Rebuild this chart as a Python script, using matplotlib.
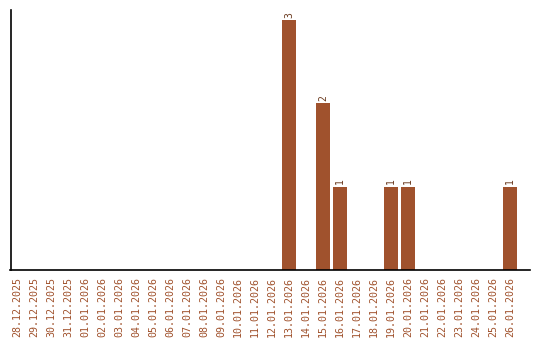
import matplotlib
matplotlib.use("Agg")
import matplotlib.pyplot as plt
import numpy as np

dates = ["28.12.2025", "29.12.2025", "30.12.2025", "31.12.2025",
         "01.01.2026", "02.01.2026", "03.01.2026", "04.01.2026",
         "05.01.2026", "06.01.2026", "07.01.2026", "08.01.2026",
         "09.01.2026", "10.01.2026", "11.01.2026", "12.01.2026",
         "13.01.2026", "14.01.2026", "15.01.2026", "16.01.2026",
         "17.01.2026", "18.01.2026", "19.01.2026", "20.01.2026",
         "21.01.2026", "22.01.2026", "23.01.2026", "24.01.2026",
         "25.01.2026", "26.01.2026"]
counts = [0, 0, 0, 0, 0, 0, 0, 0, 0, 0, 0, 0, 0, 0, 0, 0,
          3, 0, 2, 1, 0, 0, 1, 1, 0, 0, 0, 0, 0, 1]

bar_color = "#A0522D"
text_color = "#A0522D"

fig = plt.figure(figsize=(5.4, 3.4), dpi=100)
ax = fig.add_axes([10.5 / 540, 1 - 270 / 340, (530 - 10.5) / 540, 260 / 340])

x = np.arange(len(dates))
ax.bar(x, counts, width=0.82, color=bar_color)

for xi, c in zip(x, counts):
    if c > 0:
        ax.text(xi, c + 0.03, str(c), rotation=90, ha="center", va="bottom",
                fontsize=7, family="DejaVu Sans Mono", color="#6b3a1f")

ax.set_xlim(-0.38, 30.18)
ax.set_ylim(0, 3.12)
ax.set_xticks(x)
ax.set_xticklabels(dates, rotation=90, fontsize=7.2, family="DejaVu Sans Mono",
                   color=text_color)
ax.tick_params(axis="x", length=0, pad=5)
ax.set_yticks([])
for s in ["top", "right"]:
    ax.spines[s].set_visible(False)
ax.spines["left"].set_linewidth(1.2)
ax.spines["bottom"].set_linewidth(1.2)

fig.savefig("out.png", dpi=100)
